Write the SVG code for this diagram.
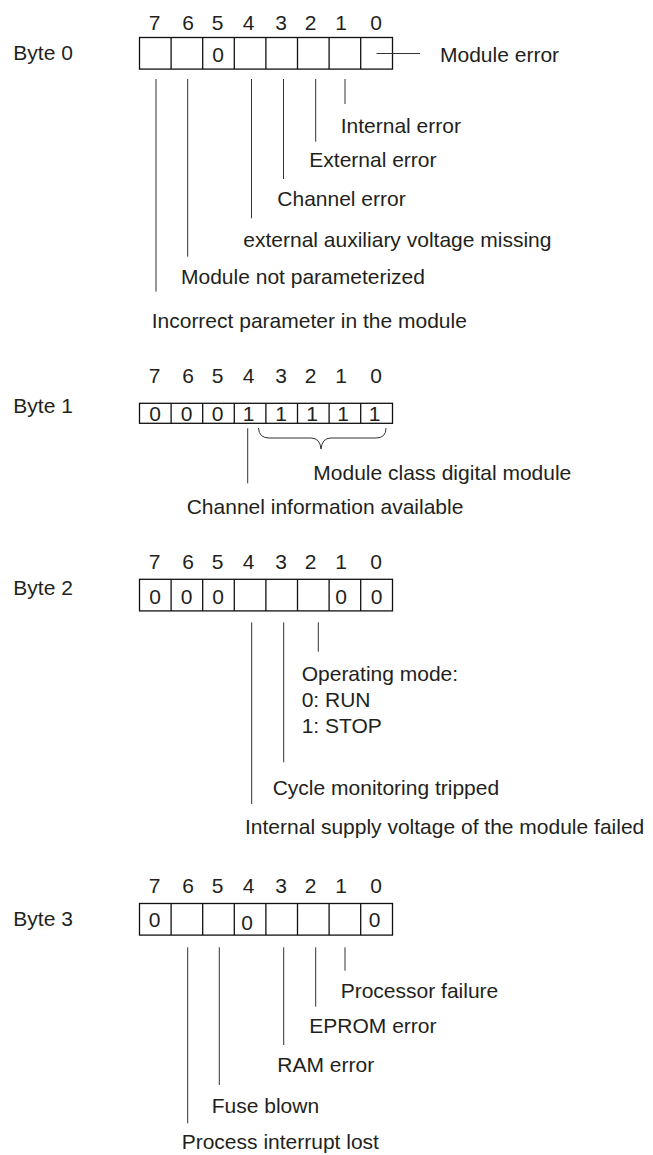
<svg xmlns="http://www.w3.org/2000/svg" width="653" height="1155" viewBox="0 0 653 1155">
  <style>
    text { font-family: "Liberation Sans", Arial, sans-serif; font-size: 21px; fill: #231f20; }
    .num { text-anchor: middle; }
    .box { fill: none; stroke: #111; stroke-width: 1.3; }
    .div { stroke: #111; stroke-width: 1.3; }
    .lead { stroke: #333; stroke-width: 1; fill: none; }
  </style>
  <defs>
    <!-- 8-cell register frame, 31.6 px per bit -->
    <g id="cells32">
      <rect class="box" x="139.5" y="0" width="253" height="31.6"/>
      <path class="div" d="M171.1,0V31.6M202.7,0V31.6M234.3,0V31.6M265.9,0V31.6M297.5,0V31.6M329.1,0V31.6M360.7,0V31.6"/>
    </g>
    <g id="cells20">
      <rect class="box" x="139.5" y="0" width="253" height="20"/>
      <path class="div" d="M171.1,0V20M202.7,0V20M234.3,0V20M265.9,0V20M297.5,0V20M329.1,0V20M360.7,0V20"/>
    </g>
    <g id="bitnums">
      <text class="num" x="154.5">7</text>
      <text class="num" x="188">6</text>
      <text class="num" x="217.5">5</text>
      <text class="num" x="248.5">4</text>
      <text class="num" x="281">3</text>
      <text class="num" x="310.5">2</text>
      <text class="num" x="341">1</text>
      <text class="num" x="376">0</text>
    </g>
  </defs>

  <!-- Byte 0 -->
  <g id="byte0">
    <text x="13.3" y="60">Byte 0</text>
    <use href="#bitnums" y="29.5"/>
    <use href="#cells32" y="37.5"/>
    <text class="num" x="218" y="61.5">0</text>
  </g>

  <!-- Byte 1 -->
  <g id="byte1">
    <text x="13.3" y="413">Byte 1</text>
    <use href="#bitnums" y="382.5"/>
    <use href="#cells20" y="403.3"/>
    <text class="num" x="155" y="420.5">0</text>
    <text class="num" x="186.5" y="420.5">0</text>
    <text class="num" x="217.5" y="420.5">0</text>
    <text class="num" x="248.5" y="420.5">1</text>
    <text class="num" x="281" y="420.5">1</text>
    <text class="num" x="312" y="420.5">1</text>
    <text class="num" x="343" y="420.5">1</text>
    <text class="num" x="374.5" y="420.5">1</text>
  </g>

  <!-- Byte 2 -->
  <g id="byte2">
    <text x="13.3" y="595">Byte 2</text>
    <use href="#bitnums" y="568.5"/>
    <use href="#cells32" y="579.3"/>
    <text class="num" x="155" y="603.5">0</text>
    <text class="num" x="186.5" y="603.5">0</text>
    <text class="num" x="218" y="603.5">0</text>
    <text class="num" x="341" y="603.5">0</text>
    <text class="num" x="376.5" y="603.5">0</text>
  </g>

  <!-- Byte 3 -->
  <g id="byte3">
    <text x="13.3" y="926">Byte 3</text>
    <use href="#bitnums" y="893"/>
    <use href="#cells32" y="903.5"/>
    <text class="num" x="154.5" y="927">0</text>
    <text class="num" x="247" y="929.5">0</text>
    <text class="num" x="374.5" y="927">0</text>
  </g>

  <!-- Leader lines and brace -->
  <g id="connectors">
    <path class="lead" d="M376.5,53.5H420"/>
    <path class="lead" d="M156,79V291.7M187.7,79V256.7M251.5,79V218.3M283.5,79V179M315.7,79V141.7M345,79V104"/>
    <path class="lead" d="M247.7,428.3V483.3"/>
    <path class="lead" d="M258.5,428 Q259,438 269,438 L311,438 Q320,438 321,449 Q322,438 331,438 L376,438 Q386,438 386,428"/>
    <path class="lead" d="M251.7,622.3V804M283.7,622.3V762.3M318.3,622.3V651.7"/>
    <path class="lead" d="M187.7,947.3V1123.3M219.3,947.3V1085M283.7,947.3V1045M315.7,947.3V1006.7M345,947.3V970.7"/>
  </g>

  <!-- Byte 0 annotations -->
  <g id="lbl-module-error"><text x="440" y="61.7">Module error</text></g>
  <g id="lbl-internal-error"><text x="340.7" y="133.3">Internal error</text></g>
  <g id="lbl-external-error"><text x="309.3" y="166.7">External error</text></g>
  <g id="lbl-channel-error"><text x="277.3" y="206">Channel error</text></g>
  <g id="lbl-aux-voltage"><text x="243.3" y="246.7">external auxiliary voltage missing</text></g>
  <g id="lbl-not-param"><text x="181" y="284">Module not parameterized</text></g>
  <g id="lbl-incorrect-param"><text x="151.7" y="327.7">Incorrect parameter in the module</text></g>

  <!-- Byte 1 annotations -->
  <g id="lbl-module-class"><text x="313.3" y="479.5">Module class digital module</text></g>
  <g id="lbl-channel-info"><text x="186.7" y="513.5">Channel information available</text></g>

  <!-- Byte 2 annotations -->
  <g id="lbl-operating-mode">
    <text x="301.7" y="681">Operating mode:</text>
    <text x="301.7" y="707">0: RUN</text>
    <text x="301.7" y="732.5">1: STOP</text>
  </g>
  <g id="lbl-cycle-monitoring"><text x="272.7" y="795">Cycle monitoring tripped</text></g>
  <g id="lbl-supply-voltage"><text x="245" y="834">Internal supply voltage of the module failed</text></g>

  <!-- Byte 3 annotations -->
  <g id="lbl-processor"><text x="340.7" y="998.3">Processor failure</text></g>
  <g id="lbl-eprom"><text x="309.3" y="1032.7">EPROM error</text></g>
  <g id="lbl-ram"><text x="277.3" y="1071.7">RAM error</text></g>
  <g id="lbl-fuse"><text x="211.7" y="1113.3">Fuse blown</text></g>
  <g id="lbl-process-interrupt"><text x="181.7" y="1149.3">Process interrupt lost</text></g>
</svg>
